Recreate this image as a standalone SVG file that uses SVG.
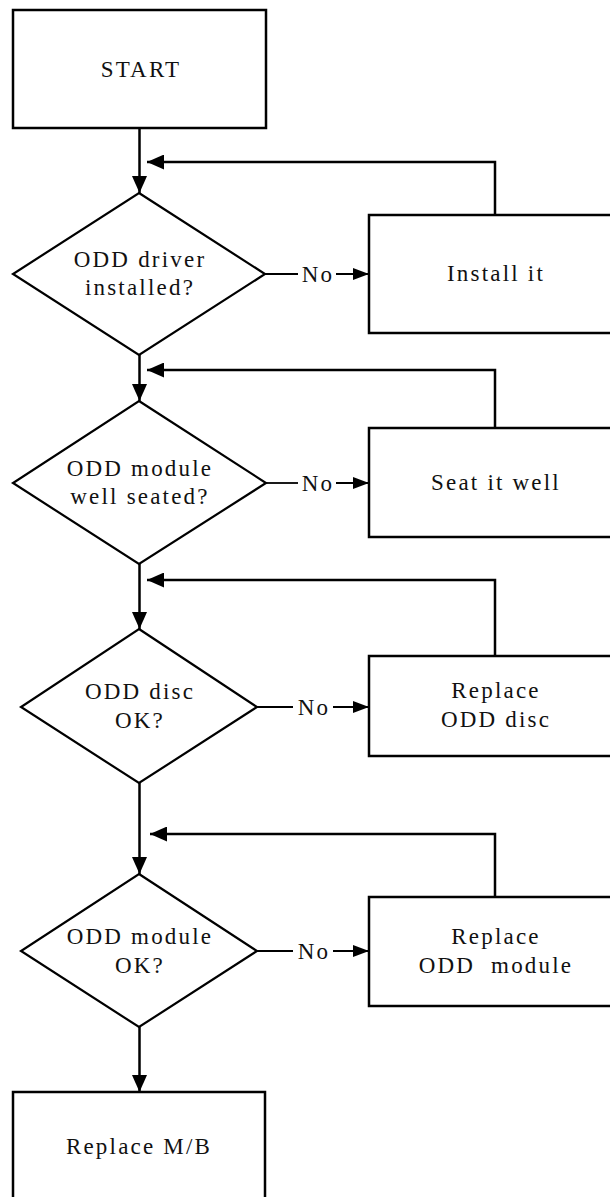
<svg xmlns="http://www.w3.org/2000/svg" width="610" height="1197" viewBox="0 0 610 1197">
<style>
.box{fill:#fff;stroke:#000;stroke-width:2.5}
.dia{fill:#fff;stroke:#000;stroke-width:2.2}
.ln{fill:none;stroke:#000;stroke-width:2.5}
.nl{fill:none;stroke:#000;stroke-width:1.8}
text{font-family:"Liberation Serif","Times New Roman",serif;font-size:23px;letter-spacing:2.2px;text-anchor:middle;fill:#111}
</style>
<defs>
<marker id="ah" markerUnits="userSpaceOnUse" markerWidth="17" markerHeight="15" refX="17" refY="7.5" orient="auto"><path d="M0,0 L17,7.5 L0,15 z" fill="#000"/></marker>
<marker id="ahs" markerUnits="userSpaceOnUse" markerWidth="16" markerHeight="12" refX="16" refY="6" orient="auto"><path d="M0,0 L16,6 L0,12 z" fill="#000"/></marker>
</defs>
<g id="connectors">
<line class="ln" x1="139.5" y1="128" x2="139.5" y2="193" marker-end="url(#ah)"/>
<path class="ln" d="M495,215 V162 H147" marker-end="url(#ah)"/>
<line class="nl" x1="265" y1="274" x2="298" y2="274"/>
<text x="318" y="282">No</text>
<line class="nl" x1="336" y1="274" x2="369" y2="274" marker-end="url(#ahs)"/>

<line class="ln" x1="139.5" y1="355" x2="139.5" y2="401" marker-end="url(#ah)"/>
<path class="ln" d="M495,428 V370 H147" marker-end="url(#ah)"/>
<line class="nl" x1="266" y1="483" x2="298" y2="483"/>
<text x="318" y="491">No</text>
<line class="nl" x1="336" y1="483" x2="369" y2="483" marker-end="url(#ahs)"/>

<line class="ln" x1="139.5" y1="564" x2="139.5" y2="629" marker-end="url(#ah)"/>
<path class="ln" d="M495,656 V580 H147" marker-end="url(#ah)"/>
<line class="nl" x1="257" y1="707" x2="293" y2="707"/>
<text x="314" y="715">No</text>
<line class="nl" x1="333" y1="707" x2="369" y2="707" marker-end="url(#ahs)"/>

<line class="ln" x1="139.5" y1="783" x2="139.5" y2="874" marker-end="url(#ah)"/>
<path class="ln" d="M495,897 V834 H150" marker-end="url(#ah)"/>
<line class="nl" x1="257" y1="951" x2="293" y2="951"/>
<text x="314" y="959">No</text>
<line class="nl" x1="333" y1="951" x2="369" y2="951" marker-end="url(#ahs)"/>

<line class="ln" x1="139.5" y1="1027" x2="139.5" y2="1092" marker-end="url(#ah)"/>
</g>
<g id="start">
<rect class="box" x="13" y="10" width="253" height="118"/>
<text x="141" y="77">START</text>
</g>
<g id="d1">
<polygon class="dia" points="139,193 265,274 139,355 13,274"/>
<text x="140" y="267">ODD driver</text>
<text x="140" y="295">installed?</text>
</g>
<g id="b1">
<rect class="box" x="369" y="215" width="252" height="118"/>
<text x="496" y="281">Install it</text>
</g>
<g id="d2">
<polygon class="dia" points="139,401 266,483 139,564 13,483"/>
<text x="140" y="476">ODD module</text>
<text x="140" y="504">well seated?</text>
</g>
<g id="b2">
<rect class="box" x="369" y="428" width="252" height="109"/>
<text x="496" y="490">Seat it well</text>
</g>
<g id="d3">
<polygon class="dia" points="139,629 257,707 139,783 21,707"/>
<text x="140" y="699">ODD disc</text>
<text x="140" y="728">OK?</text>
</g>
<g id="b3">
<rect class="box" x="369" y="656" width="252" height="100"/>
<text x="496" y="698">Replace</text>
<text x="496" y="727">ODD disc</text>
</g>
<g id="d4">
<polygon class="dia" points="139,874 257,951 139,1027 21,951"/>
<text x="140" y="944">ODD module</text>
<text x="140" y="973">OK?</text>
</g>
<g id="b4">
<rect class="box" x="369" y="897" width="252" height="109"/>
<text x="496" y="944">Replace</text>
<text x="496" y="973" xml:space="preserve">ODD  module</text>
</g>
<g id="b5">
<rect class="box" x="13" y="1092" width="252" height="120"/>
<text x="139" y="1154">Replace M/B</text>
</g>
</svg>
